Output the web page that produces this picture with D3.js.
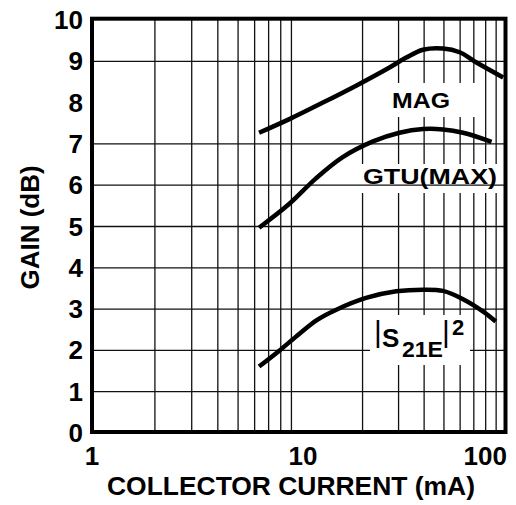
<!DOCTYPE html>
<html><head><meta charset="utf-8">
<script src="https://cdn.jsdelivr.net/npm/d3@7"></script>
<style>html,body{margin:0;padding:0;background:#fff;}svg{display:block;}</style>
</head><body>
<script>
// Data (collector current in mA, gain in dB)
const magI = [6.3, 8.8, 12.8, 18.6, 27.1, 32.7, 39.5, 49.5, 59.7, 72.1, 97.4];
const magG = [7.27, 7.60, 8.00, 8.41, 8.85, 9.09, 9.28, 9.31, 9.22, 8.97, 8.61];
const gtuI = [6.3, 8.8, 11.8, 16.0, 22.5, 30.3, 39.5, 49.5, 62.0, 85.5];
const gtuG = [4.97, 5.55, 6.16, 6.68, 7.06, 7.27, 7.36, 7.35, 7.27, 7.05];
const s21I = [6.3, 7.9, 9.8, 12.0, 14.8, 20.8, 29.2, 39.5, 49.5, 62.0, 77.8, 89.6];
const s21G = [1.61, 2.00, 2.40, 2.74, 2.98, 3.27, 3.43, 3.47, 3.44, 3.24, 2.94, 2.70];
const xTickLabels = ["1", "10", "100"];
const xTickValues = [1, 10, 100];
const yTickValues = [0,1,2,3,4,5,6,7,8,9,10];
const xGrid = [2,3,4,5,6,7,8,9,20,30,40,50,60,70,80,90];
const yGrid = [1,2,3,4,5,6,7,9];

const W = 516, H = 505;
const FONT = "'Liberation Sans', Arial, Helvetica, sans-serif";
const svg = d3.select("body").append("svg").attr("width", W).attr("height", H);

const x = d3.scaleLog().domain([1, 10, 100]).range([92, 301, 505.5]);
const y = d3.scaleLinear().domain([0, 10]).range([433, 20]);

const gridColor = "#111";
svg.append("g").selectAll("line").data(xGrid).join("line")
  .attr("x1", d => x(d)).attr("x2", d => x(d))
  .attr("y1", y(10)).attr("y2", y(0))
  .attr("stroke", gridColor).attr("stroke-width", 1.3);

function box(x0, y0, x1, y1) {
  svg.append("rect").attr("x", x0).attr("y", y0).attr("width", x1 - x0).attr("height", y1 - y0).attr("fill", "#fff");
}
box(358, 164, 500, 193); // GTU(MAX)

svg.append("g").selectAll("line").data(yGrid).join("line")
  .attr("x1", x(1)).attr("x2", x(100))
  .attr("y1", d => y(d)).attr("y2", d => y(d))
  .attr("stroke", gridColor).attr("stroke-width", 1.3);

box(388, 83, 482, 117);  // MAG
box(370, 315, 470, 365); // S21E

svg.append("rect").attr("x", x(1)).attr("y", 18.7)
  .attr("width", x(100) - x(1)).attr("height", 432 - 18.7)
  .attr("fill", "none").attr("stroke", "#000").attr("stroke-width", 4);

const line = d3.line().x(d => x(d[0])).y(d => y(d[1])).curve(d3.curveCatmullRom.alpha(0.5));
[[magI, magG], [gtuI, gtuG], [s21I, s21G]].forEach(([I, G]) => {
  svg.append("path").datum(I.map((v, i) => [v, G[i]]))
    .attr("d", line).attr("fill", "none").attr("stroke", "#000").attr("stroke-width", 4.5);
});

svg.append("g").selectAll("text").data(yTickValues).join("text")
  .attr("x", 83).attr("y", d => y(d) + 9)
  .attr("text-anchor", "end")
  .attr("font-family", FONT).attr("font-weight", "bold").attr("font-size", 26)
  .text(d => d);

svg.append("g").selectAll("text").data(xTickValues).join("text")
  .attr("x", (d, i) => i === 2 ? 507 : x(d) + (i === 1 ? 2 : 0))
  .attr("y", 465)
  .attr("text-anchor", (d, i) => i === 2 ? "end" : "middle")
  .attr("font-family", FONT).attr("font-weight", "bold").attr("font-size", 26)
  .text((d, i) => xTickLabels[i]);

svg.append("text").attr("x", 291).attr("y", 495)
  .attr("text-anchor", "middle")
  .attr("font-family", FONT).attr("font-weight", "bold").attr("font-size", 26)
  .attr("textLength", 368).attr("lengthAdjust", "spacingAndGlyphs")
  .text("COLLECTOR CURRENT (mA)");
svg.append("text").attr("transform", "translate(39,227.5) rotate(-90)")
  .attr("text-anchor", "middle")
  .attr("font-family", FONT).attr("font-weight", "bold").attr("font-size", 26)
  .text("GAIN (dB)");

svg.append("text").attr("x", 392).attr("y", 107.5)
  .attr("font-family", FONT).attr("font-weight", "bold").attr("font-size", 22)
  .attr("textLength", 58).attr("lengthAdjust", "spacingAndGlyphs").text("MAG");
svg.append("text").attr("x", 363).attr("y", 183.5)
  .attr("font-family", FONT).attr("font-weight", "bold").attr("font-size", 22)
  .attr("textLength", 134).attr("lengthAdjust", "spacingAndGlyphs").text("GTU(MAX)");

const sg = svg.append("g").attr("font-family", FONT);
sg.append("text").attr("x", 378).attr("y", 342).attr("text-anchor", "middle")
  .attr("font-size", 30).text("|");
sg.append("text").attr("x", 382).attr("y", 347).attr("font-weight", "bold").attr("font-size", 26).text("S");
sg.append("text").attr("x", 402).attr("y", 357).attr("font-weight", "bold").attr("font-size", 22)
  .attr("textLength", 41).attr("lengthAdjust", "spacingAndGlyphs").text("21E");
sg.append("text").attr("x", 446).attr("y", 342).attr("text-anchor", "middle")
  .attr("font-size", 30).text("|");
sg.append("text").attr("x", 452).attr("y", 335).attr("font-weight", "bold").attr("font-size", 22).text("2");
</script>
</body></html>
